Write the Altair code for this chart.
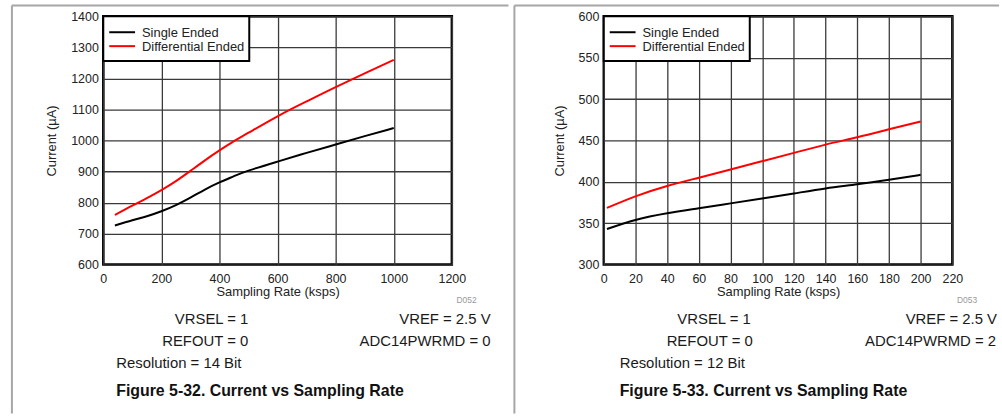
import altair as alt
import pandas as pd

FONT = "Liberation Sans"

series_names = ["Single Ended", "Differential Ended"]
series_colors = ["#000000", "#ff0000"]

# Figure 5-32
x_left = [40, 100, 150, 200, 250, 300, 350, 400, 450, 500, 600, 700, 800, 900, 1000]
single_left = [726, 743, 756, 772, 792, 816, 842, 865, 885, 903, 932, 960, 987, 1014, 1040]
diff_left = [760, 790, 814, 840, 869, 902, 936, 968, 998, 1025, 1078, 1126, 1172, 1216, 1260]

# Figure 5-33
x_right = [2, 20, 40, 60, 80, 100, 120, 140, 160, 180, 200]
single_right = [343, 354, 362, 368, 374, 380, 386, 392, 397, 402.5, 408.5]
diff_right = [368.5, 382.5, 395, 405, 415, 425, 435, 445, 454, 463.5, 473]

x_ticks_left = [0, 200, 400, 600, 800, 1000, 1200]
y_ticks_left = [600, 700, 800, 900, 1000, 1100, 1200, 1300, 1400]
x_ticks_right = list(range(0, 221, 20))
y_ticks_right = [300, 350, 400, 450, 500, 550, 600]

x_title = "Sampling Rate (ksps)"
y_title = "Current (µA)"

notes_left = ["VRSEL = 1", "VREF = 2.5 V", "REFOUT = 0", "ADC14PWRMD = 0",
              "Resolution = 14 Bit", "Figure 5-32. Current vs Sampling Rate", "D052"]
notes_right = ["VRSEL = 1", "VREF = 2.5 V", "REFOUT = 0", "ADC14PWRMD = 2",
               "Resolution = 12 Bit", "Figure 5-33. Current vs Sampling Rate", "D053"]

W, H = 351, 250
ONE = alt.Data(values=[{}])
GRAY = "#a6a6a6"


def make_df(xs, s1, s2):
    rows = []
    for name, ys in zip(series_names, [s1, s2]):
        for xv, yv in zip(xs, ys):
            rows.append({"x": xv, "y": yv, "series": name})
    return pd.DataFrame(rows)


def txt(text, x, y, align="left", size=15, weight="normal", color="#1a1a1a"):
    return alt.Chart(ONE).mark_text(
        align=align, baseline="alphabetic", font=FONT, fontSize=size,
        fontWeight=weight, color=color
    ).encode(x=alt.value(x), y=alt.value(y), text=alt.value(text))


def rule(x, x2, y, y2):
    return alt.Chart(ONE).mark_rule(color=GRAY, strokeWidth=2).encode(
        x=alt.value(x), x2=alt.value(x2), y=alt.value(y), y2=alt.value(y2))


def panel(df, xdom, ydom, xticks, yticks, notes, pos, frame_rules, shift):
    base = alt.Chart(df).mark_line(strokeWidth=2, interpolate="natural").encode(
        x=alt.X("x:Q", scale=alt.Scale(domain=xdom, nice=False),
                axis=alt.Axis(values=xticks, title=x_title, grid=True, ticks=False,
                              domain=False, labelPadding=8, titlePadding=1, format="d",
                              labelFlush=False, labelOverlap=False)),
        y=alt.Y("y:Q", scale=alt.Scale(domain=ydom, nice=False, zero=False),
                axis=alt.Axis(values=yticks, title=y_title, grid=True, ticks=False,
                              domain=False, labelPadding=5, titlePadding=12, format="d",
                              labelFlush=False, labelOverlap=False)),
        color=alt.Color("series:N", scale=alt.Scale(domain=series_names, range=series_colors),
                        legend=None),
        detail="series:N",
    )
    # legend box
    leg_box = alt.Chart(ONE).mark_rect(fill="white", stroke="black", strokeWidth=2).encode(
        x=alt.value(0), x2=alt.value(147), y=alt.value(0), y2=alt.value(45))
    leg = [leg_box]
    for i, (name, col) in enumerate(zip(series_names, series_colors)):
        leg.append(alt.Chart(ONE).mark_rule(color=col, strokeWidth=2).encode(
            x=alt.value(6), x2=alt.value(32), y=alt.value(16 + 14 * i)))
        leg.append(txt(name, 39, 20.5 + 14.5 * i, size=13, color="#222222"))
    texts = []
    (xa, xb, xl, yb1, yb2, yb3, yb4) = pos
    texts.append(txt(notes[0], xa, yb1, align="right"))
    texts.append(txt(notes[1], xb, yb1, align="right"))
    texts.append(txt(notes[2], xa + shift[0], yb2, align="right"))
    texts.append(txt(notes[3], xb + shift[1], yb2, align="right"))
    texts.append(txt(notes[4], xl, yb3))
    texts.append(txt(notes[5], xl, yb4, size=16, weight="bold", color="#111111"))
    texts.append(txt(notes[6], 376, 289, align="right", size=8.5, color="#9a9a9a"))
    return alt.layer(*frame_rules, base, *leg, *texts).properties(width=W, height=H)


left = panel(make_df(x_left, single_left, diff_left), [0, 1200], [600, 1400],
             x_ticks_left, y_ticks_left, notes_left,
             (146, 390, 13, 309.5, 332, 354.5, 382.5),
             [rule(-92, -92, -11, 400), rule(-92, 408, -11, -11)], (0, 0))
right = panel(make_df(x_right, single_right, diff_right), [0, 220], [300, 600],
              x_ticks_right, y_ticks_right, notes_right,
              (148, 396, 16, 309.5, 332, 354.5, 382.5),
              [rule(-90, -90, -11, 400), rule(-90, 398, -11, -11)], (2, -1))

chart = alt.hconcat(left, right, spacing=0).properties(
    padding={"left": 9, "top": 1, "right": 0, "bottom": 0},
    background="white"
).configure_view(
    stroke="black", strokeWidth=2.5
).configure_axis(
    labelFont=FONT, labelFontSize=12.5, labelColor="#222222",
    titleFont=FONT, titleFontSize=13, titleFontWeight="normal", titleColor="#222222",
    gridColor="#3a3a3a", gridWidth=1.3, gridOpacity=1
)

chart.save("out.html", embed_options={"renderer": "svg", "actions": False})
